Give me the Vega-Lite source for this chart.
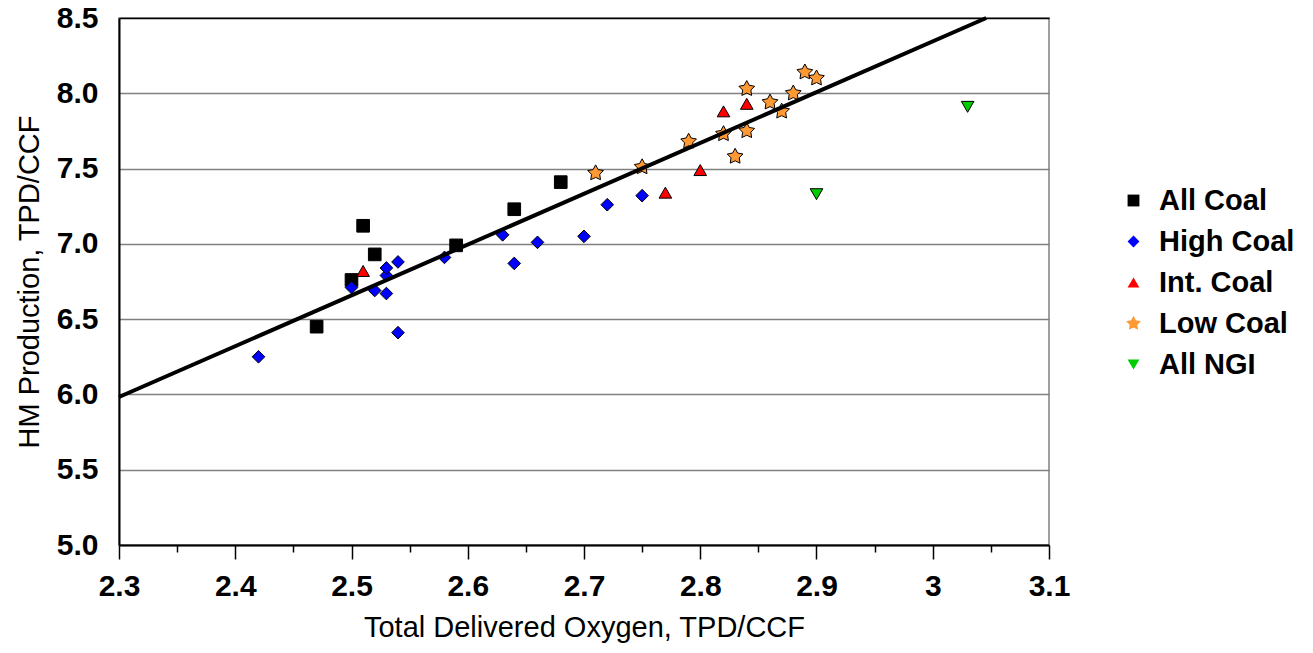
{
  "$schema": "https://vega.github.io/schema/vega-lite/v6.json",
  "width": 930,
  "height": 527,
  "autosize": {"type": "none"},
  "padding": {"left": 119, "top": 18, "right": 264, "bottom": 108},
  "background": "white",
  "config": {
    "font": "Liberation Sans",
    "view": {"stroke": "#808080", "strokeWidth": 1.5},
    "legend": {
      "title": null,
      "orient": "none",
      "legendX": 1000,
      "legendY": 168,
      "labelFontSize": 29,
      "labelFontWeight": "bold",
      "labelColor": "black",
      "labelLimit": 300,
      "labelOffset": 11,
      "rowPadding": 11,
      "symbolSize": 140,
      "symbolStrokeColor": "black",
      "symbolStrokeWidth": 1
    }
  },
  "datasets": {
    "points": [
      {"series": "All Coal", "oxygen": 2.47, "hm": 6.45},
      {"series": "All Coal", "oxygen": 2.50, "hm": 6.76},
      {"series": "All Coal", "oxygen": 2.51, "hm": 7.12},
      {"series": "All Coal", "oxygen": 2.52, "hm": 6.93},
      {"series": "All Coal", "oxygen": 2.59, "hm": 6.99},
      {"series": "All Coal", "oxygen": 2.64, "hm": 7.23},
      {"series": "All Coal", "oxygen": 2.68, "hm": 7.41},
      {"series": "High Coal", "oxygen": 2.42, "hm": 6.25},
      {"series": "High Coal", "oxygen": 2.50, "hm": 6.71},
      {"series": "High Coal", "oxygen": 2.52, "hm": 6.69},
      {"series": "High Coal", "oxygen": 2.53, "hm": 6.67},
      {"series": "High Coal", "oxygen": 2.53, "hm": 6.79},
      {"series": "High Coal", "oxygen": 2.53, "hm": 6.84},
      {"series": "High Coal", "oxygen": 2.54, "hm": 6.88},
      {"series": "High Coal", "oxygen": 2.54, "hm": 6.41},
      {"series": "High Coal", "oxygen": 2.58, "hm": 6.91},
      {"series": "High Coal", "oxygen": 2.63, "hm": 7.06},
      {"series": "High Coal", "oxygen": 2.64, "hm": 6.87},
      {"series": "High Coal", "oxygen": 2.66, "hm": 7.01},
      {"series": "High Coal", "oxygen": 2.70, "hm": 7.05},
      {"series": "High Coal", "oxygen": 2.72, "hm": 7.26},
      {"series": "High Coal", "oxygen": 2.75, "hm": 7.32},
      {"series": "Int. Coal", "oxygen": 2.51, "hm": 6.82},
      {"series": "Int. Coal", "oxygen": 2.77, "hm": 7.34},
      {"series": "Int. Coal", "oxygen": 2.80, "hm": 7.49},
      {"series": "Int. Coal", "oxygen": 2.82, "hm": 7.88},
      {"series": "Int. Coal", "oxygen": 2.84, "hm": 7.93},
      {"series": "Low Coal", "oxygen": 2.71, "hm": 7.47},
      {"series": "Low Coal", "oxygen": 2.75, "hm": 7.51},
      {"series": "Low Coal", "oxygen": 2.79, "hm": 7.68},
      {"series": "Low Coal", "oxygen": 2.82, "hm": 7.73},
      {"series": "Low Coal", "oxygen": 2.83, "hm": 7.58},
      {"series": "Low Coal", "oxygen": 2.84, "hm": 7.75},
      {"series": "Low Coal", "oxygen": 2.84, "hm": 8.03},
      {"series": "Low Coal", "oxygen": 2.86, "hm": 7.94},
      {"series": "Low Coal", "oxygen": 2.87, "hm": 7.88},
      {"series": "Low Coal", "oxygen": 2.88, "hm": 8.00},
      {"series": "Low Coal", "oxygen": 2.89, "hm": 8.14},
      {"series": "Low Coal", "oxygen": 2.90, "hm": 8.10},
      {"series": "All NGI", "oxygen": 2.90, "hm": 7.33},
      {"series": "All NGI", "oxygen": 3.03, "hm": 7.91}
    ],
    "trend": [
      {"oxygen": 2.3, "hm": 5.983},
      {"oxygen": 3.046, "hm": 8.5}
    ]
  },
  "layer": [
    {
      "data": {"name": "points"},
      "mark": {"type": "point", "filled": true, "stroke": "black", "strokeWidth": 1, "opacity": 1},
      "encoding": {
        "x": {
          "field": "oxygen",
          "type": "quantitative",
          "scale": {"domain": [2.3, 3.1], "nice": false, "zero": false},
          "axis": {
            "title": "Total Delivered Oxygen, TPD/CCF",
            "titleFontSize": 29,
            "titleFontWeight": "normal",
            "titleColor": "black",
            "titlePadding": 12,
            "values": [2.3, 2.35, 2.4, 2.45, 2.5, 2.55, 2.6, 2.65, 2.7, 2.75, 2.8, 2.85, 2.9, 2.95, 3.0, 3.05, 3.1],
            "format": "~g",
            "labelExpr": "round(datum.value * 20) % 2 == 0 ? datum.label : ''",
            "labelFontSize": 30,
            "labelFontWeight": "bold",
            "labelColor": "black",
            "labelPadding": 12,
            "labelFlush": false,
            "labelOverlap": false,
            "grid": false,
            "domainColor": "black",
            "domainWidth": 2,
            "tickColor": "black",
            "tickWidth": 1.5,
            "tickSize": {"condition": {"test": "round(datum.value * 20) % 2 == 0", "value": 14}, "value": 7}
          }
        },
        "y": {
          "field": "hm",
          "type": "quantitative",
          "scale": {"domain": [5, 8.5], "nice": false, "zero": false},
          "axis": {
            "title": "HM Production, TPD/CCF",
            "titleFontSize": 29,
            "titleFontWeight": "normal",
            "titleColor": "black",
            "titlePadding": 12,
            "values": [5.0, 5.5, 6.0, 6.5, 7.0, 7.5, 8.0, 8.5],
            "format": ".1f",
            "labelFontSize": 30,
            "labelFontWeight": "bold",
            "labelColor": "black",
            "labelPadding": 21,
            "ticks": false,
            "grid": true,
            "gridColor": {"condition": {"test": "datum.value == 8.5", "value": "black"}, "value": "#808080"},
            "gridWidth": 1.5,
            "domainColor": "black",
            "domainWidth": 2
          }
        },
        "shape": {
          "field": "series",
          "type": "nominal",
          "scale": {
            "domain": ["All Coal", "High Coal", "Int. Coal", "Low Coal", "All NGI"],
            "range": ["square", "diamond", "triangle-up", "M0,-1.3L0.4,-0.55L1.24,-0.4L0.65,0.2L0.77,1.05L0,0.68L-0.77,1.05L-0.65,0.2L-1.24,-0.4L-0.4,-0.55Z", "triangle-down"]
          }
        },
        "fill": {
          "field": "series",
          "type": "nominal",
          "scale": {
            "domain": ["All Coal", "High Coal", "Int. Coal", "Low Coal", "All NGI"],
            "range": ["#000000", "#0000FF", "#FF0000", "#FF9933", "#00CC00"]
          },
          "legend": {"symbolStrokeColor": "black", "symbolStrokeWidth": 1}
        },
        "size": {"value": 160}
      }
    },
    {
      "data": {"name": "trend"},
      "mark": {"type": "line", "color": "black", "strokeWidth": 4},
      "encoding": {
        "x": {"field": "oxygen", "type": "quantitative"},
        "y": {"field": "hm", "type": "quantitative"}
      }
    }
  ]
}
